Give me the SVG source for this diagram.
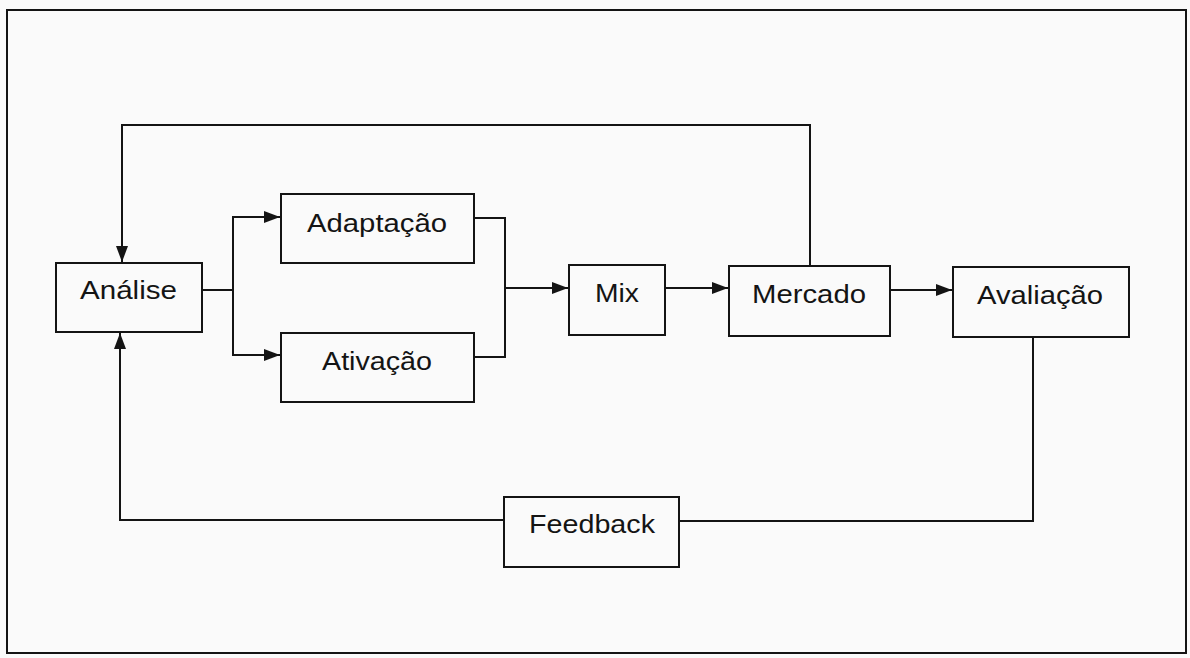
<svg xmlns="http://www.w3.org/2000/svg" width="1190" height="658" viewBox="0 0 1190 658">
  <style>
    .box { fill: none; stroke: #141414; stroke-width: 2; }
    .lbl { font-family: "Liberation Sans", Arial, sans-serif; font-size: 25px; fill: #141414; text-anchor: middle; }
    .wire { fill: none; stroke: #141414; stroke-width: 2; }
  </style>
  <defs>
    <marker id="arr" markerUnits="userSpaceOnUse" markerWidth="17" markerHeight="14" viewBox="0 0 17 14" refX="16" refY="7" orient="auto">
      <path d="M0,1 L16,7 L0,13 Z" fill="#141414"/>
    </marker>
  </defs>
  <rect x="0" y="0" width="1190" height="658" fill="#fafafa"/>
  <rect x="7" y="10" width="1179" height="643" class="box"/>

  <g id="connectors">
    <path class="wire" d="M810,266 V125 H122 V262" marker-end="url(#arr)"/>
    <path class="wire" d="M1033,337 V521 H679"/>
    <path class="wire" d="M504,520 H120 V333" marker-end="url(#arr)"/>
    <path class="wire" d="M202,290 H233"/>
    <path class="wire" d="M233,290 V217 H280" marker-end="url(#arr)"/>
    <path class="wire" d="M233,290 V355 H280" marker-end="url(#arr)"/>
    <path class="wire" d="M474,218 H505 V357 H474"/>
    <path class="wire" d="M505,288 H568" marker-end="url(#arr)"/>
    <path class="wire" d="M665,288 H728" marker-end="url(#arr)"/>
    <path class="wire" d="M890,290 H952" marker-end="url(#arr)"/>
  </g>

  <g id="analise">
    <rect class="box" x="56" y="263" width="146" height="69"/>
    <text class="lbl" x="128.5" y="299" textLength="97" lengthAdjust="spacingAndGlyphs">Análise</text>
  </g>
  <g id="adaptacao">
    <rect class="box" x="281" y="194" width="193" height="69"/>
    <text class="lbl" x="377" y="232" textLength="140" lengthAdjust="spacingAndGlyphs">Adaptação</text>
  </g>
  <g id="ativacao">
    <rect class="box" x="281" y="333" width="193" height="69"/>
    <text class="lbl" x="377" y="370" textLength="110" lengthAdjust="spacingAndGlyphs">Ativação</text>
  </g>
  <g id="mix">
    <rect class="box" x="569" y="265" width="96" height="70"/>
    <text class="lbl" x="617" y="302" textLength="44" lengthAdjust="spacingAndGlyphs">Mix</text>
  </g>
  <g id="mercado">
    <rect class="box" x="729" y="266" width="161" height="70"/>
    <text class="lbl" x="809" y="303" textLength="114" lengthAdjust="spacingAndGlyphs">Mercado</text>
  </g>
  <g id="avaliacao">
    <rect class="box" x="953" y="267" width="176" height="70"/>
    <text class="lbl" x="1040" y="304" textLength="126" lengthAdjust="spacingAndGlyphs">Avaliação</text>
  </g>
  <g id="feedback">
    <rect class="box" x="504" y="497" width="175" height="70"/>
    <text class="lbl" x="592" y="533" textLength="126" lengthAdjust="spacingAndGlyphs">Feedback</text>
  </g>
</svg>
